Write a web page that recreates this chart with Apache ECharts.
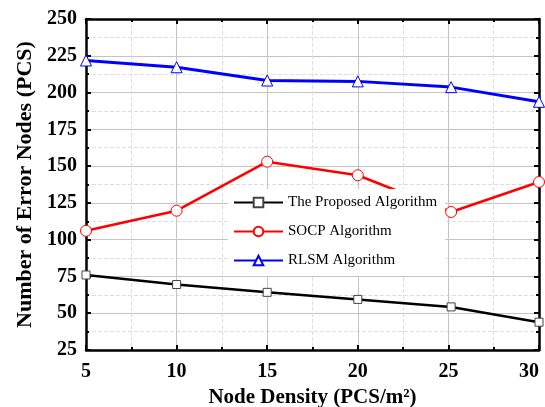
<!DOCTYPE html>
<html>
<head>
<meta charset="utf-8">
<script src="https://cdn.jsdelivr.net/npm/echarts@6/dist/echarts.min.js"></script>
<style>html,body{margin:0;padding:0;background:#fff}#c{width:545px;height:407px}</style>
</head>
<body>
<div id="c"></div>
<script>
const xValues = [5, 10, 15, 20, 25.15, 30];
const proposed = [76, 69.5, 64.2, 59.4, 54.3, 43.9];
const socp = [106, 119.7, 153, 143.8, 118.8, 139.2];
const rlsm = [221.8, 217.2, 208.2, 207.6, 203.7, 193.7];
const seriesNames = ['The Proposed Algorithm', 'SOCP Algorithm', 'RLSM Algorithm'];
const xAxisName = 'Node Density (PCS/m²)';
const yAxisName = 'Number of Error Nodes (PCS)';

const serif = 'Liberation Serif, Times New Roman, serif';
const pairs = v => xValues.map((x, i) => [x, v[i]]);

const tickCommon = {
  axisLine: {show: true, onZero: false, lineStyle: {color: '#000', width: 2.5}},
  axisTick: {show: true, inside: true, length: 5, lineStyle: {color: '#000', width: 2}},
  minorTick: {show: true, splitNumber: 2, length: 3, lineStyle: {color: '#000', width: 2}}
};

const chart = echarts.init(document.getElementById('c'), null, {renderer: 'canvas'});
chart.setOption({
  animation: false,
  backgroundColor: '#fff',
  grid: {left: 86, right: 6, top: 19, bottom: 57, containLabel: false, outerBoundsMode: 'none'},
  xAxis: [{
    type: 'value', min: 5, max: 30, interval: 5, position: 'bottom',
    name: xAxisName, nameLocation: 'middle', nameGap: 30,
    nameTextStyle: {fontFamily: serif, fontWeight: 'bold', fontSize: 21, color: '#000'},
    axisLabel: {fontFamily: serif, fontWeight: 'bold', fontSize: 20, color: '#000', margin: 12, alignMaxLabel: 'right'},
    ...tickCommon,
    splitLine: {show: true, lineStyle: {color: '#c4c4c4', width: 1}},
    minorSplitLine: {show: true, lineStyle: {color: '#dedede', width: 1, type: 'dashed'}}
  }, {
    type: 'value', min: 5, max: 30, interval: 5, position: 'top',
    axisLabel: {show: false}, ...tickCommon,
    splitLine: {show: false}
  }],
  yAxis: [{
    type: 'value', min: 25, max: 250, interval: 25, position: 'left',
    name: yAxisName, nameLocation: 'middle', nameGap: 50,
    nameTextStyle: {fontFamily: serif, fontWeight: 'bold', fontSize: 22, color: '#000'},
    axisLabel: {fontFamily: serif, fontWeight: 'bold', fontSize: 20, color: '#000', margin: 9},
    ...tickCommon,
    splitLine: {show: true, lineStyle: {color: '#c4c4c4', width: 1}},
    minorSplitLine: {show: true, lineStyle: {color: '#dedede', width: 1, type: 'dashed'}}
  }, {
    type: 'value', min: 25, max: 250, interval: 25, position: 'right',
    axisLabel: {show: false}, ...tickCommon,
    splitLine: {show: false}
  }],
  legend: {
    orient: 'vertical', left: 228, top: 189,
    backgroundColor: '#fff',
    padding: [6, 8, 8, 5],
    itemWidth: 49, itemHeight: 12, itemGap: 14,
    textStyle: {fontFamily: serif, fontSize: 15, color: '#000', lineHeight: 14},
    data: seriesNames
  },
  series: [{
    name: seriesNames[0], type: 'line', data: pairs(proposed),
    symbol: 'rect', symbolSize: 8,
    lineStyle: {color: '#000', width: 2.5},
    itemStyle: {color: '#fff', borderColor: '#444', borderWidth: 1}
  }, {
    name: seriesNames[1], type: 'line', data: pairs(socp),
    symbol: 'circle', symbolSize: 11,
    lineStyle: {color: '#ff0000', width: 2.5},
    itemStyle: {color: '#fff', borderColor: '#ff0000', borderWidth: 1}
  }, {
    name: seriesNames[2], type: 'line', data: pairs(rlsm),
    symbol: 'triangle', symbolSize: 11,
    lineStyle: {color: '#0000ff', width: 3},
    itemStyle: {color: '#fff', borderColor: '#0000ff', borderWidth: 1}
  }]
});
</script>
</body>
</html>
